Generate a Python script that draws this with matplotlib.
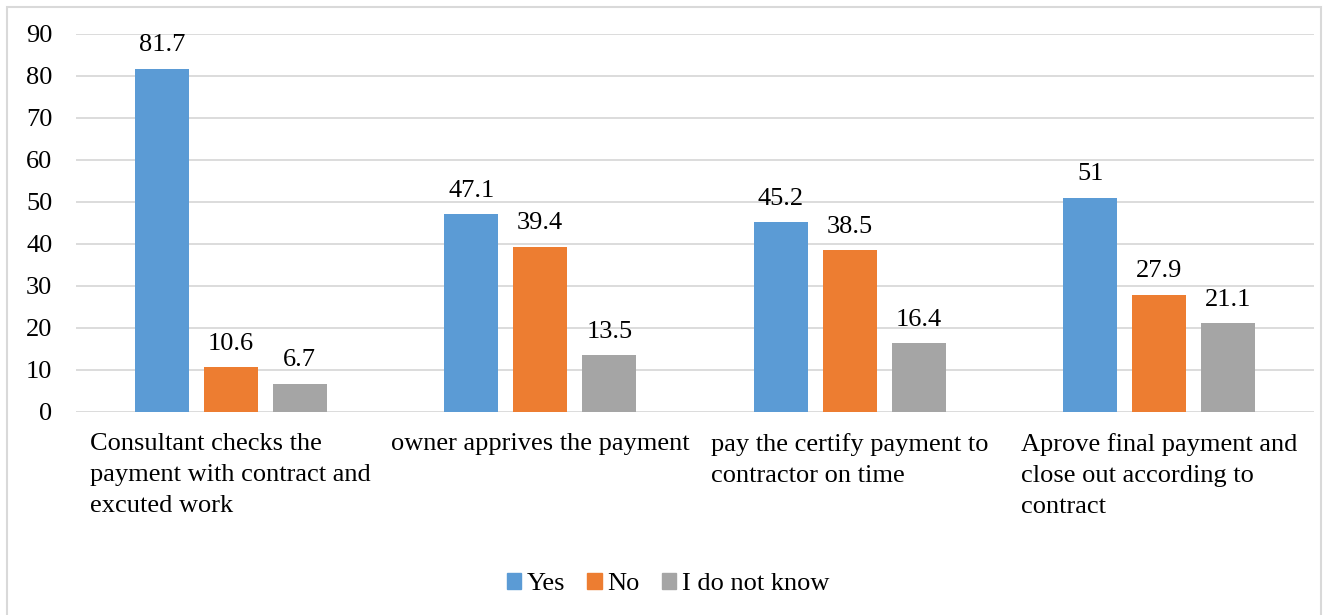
import matplotlib.pyplot as plt
import matplotlib.patches as patches
import numpy as np

plt.rcParams['font.family'] = ['Liberation Serif', 'DejaVu Serif']

# Data
categories = ['Consultant checks the\npayment with contract and\nexcuted work',
              'owner apprives the payment',
              'pay the certify payment to\ncontractor on time',
              'Aprove final payment and\nclose out according to\ncontract']
series_names = ['Yes', 'No', 'I do not know']
yes = [81.7, 47.1, 45.2, 51]
no = [10.6, 39.4, 38.5, 27.9]
dont_know = [6.7, 13.5, 16.4, 21.1]
colors = ['#5B9BD5', '#ED7D31', '#A5A5A5']

fs = 19

fig = plt.figure(figsize=(13.23, 6.15), dpi=100)
ax = fig.add_axes([76 / 1323, 1 - 412 / 615, (1314 - 76) / 1323, (412 - 34) / 615])

x = np.arange(len(categories))
width = 0.174
step = 0.223
for i, (vals, name) in enumerate(zip([yes, no, dont_know], series_names)):
    bars = ax.bar(x + (i - 1) * step, vals, width, color=colors[i], label=name, zorder=3)
    for b, v in zip(bars, vals):
        ax.text(b.get_x() + b.get_width() / 2, v + 3.0, f'{v:g}', ha='center',
                va='bottom', fontsize=fs, color='#000000')

ax.set_xlim(-0.5, len(categories) - 0.5)
ax.set_ylim(0, 90)
ax.set_yticks(range(0, 91, 10))
ax.yaxis.grid(True, color='#D9D9D9', linewidth=1.3, zorder=0)
ax.tick_params(axis='y', length=0, pad=17, labelsize=fs)
ax.set_xticks([])
for s in ax.spines.values():
    s.set_visible(False)

for xi, lab in zip(x, categories):
    ax.text(xi, -4.9, lab, ha='center', va='top', multialignment='left',
            fontsize=fs, linespacing=1.53)

handles = [patches.Patch(color=c) for c in colors]
fig.legend(handles, series_names, loc='center', bbox_to_anchor=(668 / 1323, 1 - 584 / 615),
           ncol=3, frameon=False, fontsize=fs, handlelength=0.55, handleheight=0.55,
           handletextpad=0.22, columnspacing=0.82)

fig.patches.append(patches.Rectangle((7 / 1323, -0.02), (1321 - 7) / 1323, 1 - 7 / 615 + 0.02,
                                     transform=fig.transFigure, fill=False,
                                     edgecolor='#D9D9D9', linewidth=1.5))

fig.savefig('out.png', dpi=100)
